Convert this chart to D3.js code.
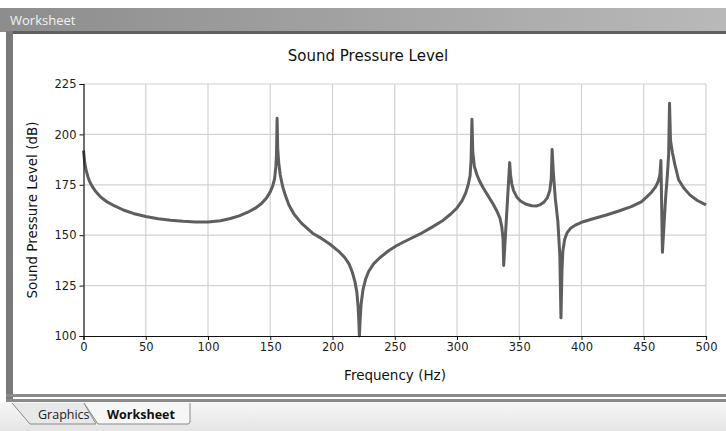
<!DOCTYPE html>
<html><head><meta charset="utf-8">
<script src="https://cdn.jsdelivr.net/npm/d3@7"></script>
<style>body{margin:0;background:#fff;}svg{display:block;font-family:"DejaVu Sans",sans-serif;}</style>
</head><body>
<svg id="c" width="726" height="431"></svg>
<script>
const title = "Sound Pressure Level";
const xLabel = "Frequency (Hz)";
const yLabel = "Sound Pressure Level (dB)";
const xTicks = [0,50,100,150,200,250,300,350,400,450,500];
const yTicks = [100,125,150,175,200,225];
const freq = [0,1,2,3.5,5,7,10,14,19,25,32,40,50,60,70,80,90,100,110,118,125,132,138,143,147,150,152,153.5,154.5,155,155.5,156,156.8,158,160,162,165,169,175,184,190,198,205,210,213.5,216,218,219.5,220.5,221.2,221.6,222.2,223,224.5,226.5,229,233,238,245,252,260,270,280,288,295,300,304,307,309,310.5,311.3,312,312.7,314,316,318,321,325,329,332,334.5,336,337,337.5,342.3,343,344,345.5,348,351,355,360,364,367,370,372.5,374.5,375.7,376.4,377.5,379,381,382.6,383.5,384.3,385,386.5,388.5,391,395,400,410,420,430,440,448,452,456,459.5,461.5,463,463.8,465,467.5,469,470,470.7,471.5,473,475,478,482,487,493,500];
const spl = [192,186,182.5,179,176.5,174.2,171.5,168.8,166.5,164.5,162.5,160.8,159.3,158.2,157.4,156.9,156.6,156.6,157.2,158.3,159.6,161.4,163.4,165.7,168.5,171.5,174.5,178,184,190,208,193,186,180,174,170,165,160.5,156,151,148.8,145.5,142,138.8,135.5,131.5,127,122,115,107,100,108,116,123,128,132,135.8,138.8,142.3,145,147.5,150.5,154,157,160.5,163.5,167,171,175,179.5,187,207.5,191,184,180,177,173.5,169.5,165.5,162,158.5,154,148,135,186,180,175.5,172,169,167,165.5,164.6,164.5,165.2,166.5,168.5,172,178,192.5,180,168,157,140,109,132,142,148,151.3,153.3,155,156.4,158.3,160,162,164.2,166.5,168.8,171.2,174,176.5,180,187,141.5,168,180,190,215.5,197,191,185,177.5,173.5,170,167.2,165];

const svg = d3.select("#c");
// window chrome
const defs = svg.append("defs");
const g1 = defs.append("linearGradient").attr("id","tb");
g1.append("stop").attr("offset","0").attr("stop-color","#8d8d8d");
g1.append("stop").attr("offset","1").attr("stop-color","#b9b9b9");
const g2 = defs.append("linearGradient").attr("id","tab").attr("x1",0).attr("x2",0).attr("y1",0).attr("y2",1);
g2.append("stop").attr("offset","0").attr("stop-color","#f7f7f7");
g2.append("stop").attr("offset","1").attr("stop-color","#e4e4e4");
svg.append("rect").attr("x",0).attr("y",8).attr("width",726).attr("height",24).attr("fill","url(#tb)");
svg.append("text").attr("x",10).attr("y",25).attr("fill","#f2f2f2").attr("font-family","'Open Sans',sans-serif").attr("font-size",13).text("Worksheet");
svg.append("rect").attr("x",6).attr("y",31).attr("width",720).attr("height",3).attr("fill","#5f5f5f");
svg.append("rect").attr("x",6).attr("y",31).attr("width",7).attr("height",370).attr("fill","#7a7a7a");
svg.append("rect").attr("x",6).attr("y",394).attr("width",720).attr("height",3).attr("fill","#8a8a8a");
svg.append("rect").attr("x",6).attr("y",399).attr("width",720).attr("height",3).attr("fill","#8a8a8a");
svg.append("rect").attr("x",0).attr("y",402).attr("width",726).attr("height",29).attr("fill","url(#tab)");
// tabs
svg.append("path").attr("d","M12,403 L30,424 L96,424 L84,403").attr("fill","#e8e8e8").attr("stroke","#8a8a8a");
svg.append("path").attr("d","M84,403 L98,424 L188,424 Q190,424 190,421 L190,403").attr("fill","#f6f6f6").attr("stroke","#8a8a8a");
svg.append("text").attr("x",38).attr("y",419).attr("font-family","'Open Sans',sans-serif").attr("font-size",12.5).attr("fill","#222").text("Graphics");
svg.append("text").attr("x",107).attr("y",419).attr("font-family","'Open Sans',sans-serif").attr("font-weight","bold").attr("font-size",12.5).attr("fill","#111").text("Worksheet");

const x = d3.scaleLinear().domain([0,500]).range([83.5,706]);
const y = d3.scaleLinear().domain([100,225]).range([336,84]);

const plot = svg.append("g");
plot.append("g").selectAll("line").data(xTicks.slice(1)).join("line")
  .attr("x1",d=>x(d)).attr("x2",d=>x(d)).attr("y1",y(100)).attr("y2",y(225))
  .attr("stroke","#d2d2d2").attr("stroke-width",1.2);
plot.append("g").selectAll("line").data(yTicks.slice(1)).join("line")
  .attr("x1",x(0)).attr("x2",x(500)).attr("y1",d=>y(d)).attr("y2",d=>y(d))
  .attr("stroke","#d2d2d2").attr("stroke-width",1.2);

const line = d3.line().x((d,i)=>x(freq[i])).y((d,i)=>y(spl[i]));
plot.append("path").datum(spl).attr("d",line).attr("fill","none")
  .attr("stroke","#5e5e5e").attr("stroke-width",3).attr("stroke-linejoin","round");

const xa = svg.append("g").attr("transform",`translate(0,${y(100)})`)
  .call(d3.axisBottom(x).tickValues(xTicks).tickSize(4).tickFormat(d3.format("d")));
const ya = svg.append("g").attr("transform",`translate(${x(0)},0)`)
  .call(d3.axisLeft(y).tickValues(yTicks).tickSize(4).tickFormat(d3.format("d")));
[xa,ya].forEach(a=>{
  a.select(".domain").attr("stroke","#111").attr("stroke-width",1.2);
  a.selectAll(".tick line").attr("stroke","#111");
  a.selectAll("text").attr("font-family","'DejaVu Sans',sans-serif").attr("font-size",11.5).attr("fill","#222");
});
svg.append("text").attr("x",368).attr("y",61).attr("text-anchor","middle").attr("font-size",15).attr("fill","#111").text(title);
svg.append("text").attr("x",395).attr("y",380).attr("text-anchor","middle").attr("font-size",13.5).attr("fill","#111").text(xLabel);
svg.append("text").attr("transform","translate(37,210) rotate(-90)").attr("text-anchor","middle").attr("font-size",13.5).attr("fill","#111").text(yLabel);
</script>
</body></html>
